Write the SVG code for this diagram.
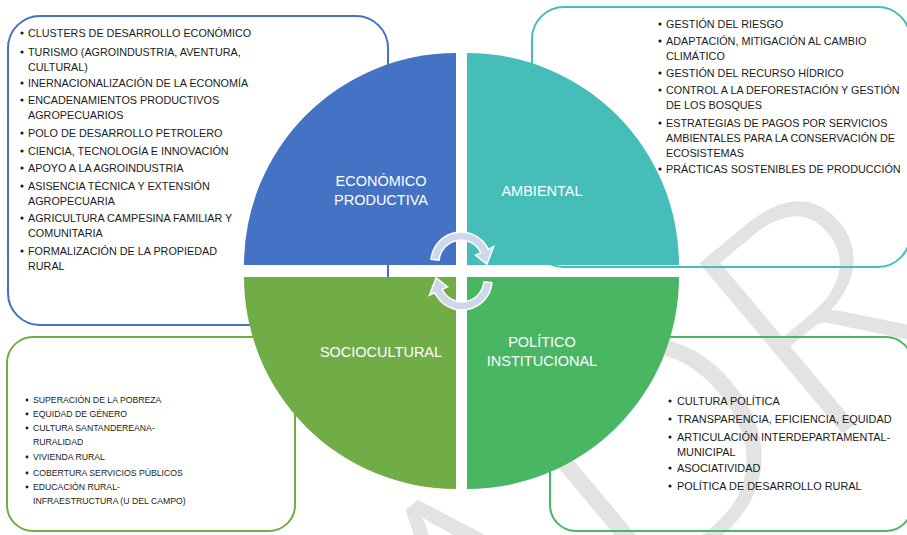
<svg xmlns="http://www.w3.org/2000/svg" width="907" height="535" viewBox="0 0 907 535">
<style>
.box{fill:none;stroke-width:2}
.t{font-family:"Liberation Sans",Arial,sans-serif;fill:#1a1a1a}
.t1{font-size:10.8px}
.t2{font-size:8.7px}
.t3{font-size:10.9px}
.lbl{font-family:"Liberation Sans",Arial,sans-serif;font-size:14.5px;fill:#ffffff;text-anchor:middle}
.arr{fill:#D0D6EB;stroke:#ffffff;stroke-width:1.5}
.wm{font-family:Lato,"Open Sans",sans-serif;font-weight:300;fill:#e3e3e3}
</style>
<rect width="907" height="535" fill="#ffffff"/>
<g id="watermark">
<text class="wm" font-size="315" transform="translate(476,742) rotate(-40)">ADR</text>
</g>
<g id="box-economico">
<rect class="box" x="8" y="16" width="380" height="309" rx="32" stroke="#4472C4"/>
<g class="t t1">
<circle cx="22" cy="33" r="1.6" fill="#1a1a1a"/><text x="28" y="37">CLUSTERS DE DESARROLLO ECONÓMICO</text>
<circle cx="22" cy="52" r="1.6" fill="#1a1a1a"/><text x="28" y="56">TURISMO (AGROINDUSTRIA, AVENTURA,</text>
<text x="28" y="71">CULTURAL)</text>
<circle cx="22" cy="83" r="1.6" fill="#1a1a1a"/><text x="28" y="87">INERNACIONALIZACIÓN DE LA ECONOMÍA</text>
<circle cx="22" cy="100" r="1.6" fill="#1a1a1a"/><text x="28" y="104">ENCADENAMIENTOS PRODUCTIVOS</text>
<text x="28" y="119">AGROPECUARIOS</text>
<circle cx="22" cy="133" r="1.6" fill="#1a1a1a"/><text x="28" y="137">POLO DE DESARROLLO PETROLERO</text>
<circle cx="22" cy="151" r="1.6" fill="#1a1a1a"/><text x="28" y="155">CIENCIA, TECNOLOGÍA E INNOVACIÓN</text>
<circle cx="22" cy="168" r="1.6" fill="#1a1a1a"/><text x="28" y="172">APOYO A LA AGROINDUSTRIA</text>
<circle cx="22" cy="186" r="1.6" fill="#1a1a1a"/><text x="28" y="190">ASISENCIA TÉCNICA Y EXTENSIÓN</text>
<text x="28" y="205">AGROPECUARIA</text>
<circle cx="22" cy="218" r="1.6" fill="#1a1a1a"/><text x="28" y="222">AGRICULTURA CAMPESINA FAMILIAR Y</text>
<text x="28" y="237">COMUNITARIA</text>
<circle cx="22" cy="251" r="1.6" fill="#1a1a1a"/><text x="28" y="255">FORMALIZACIÓN DE LA PROPIEDAD</text>
<text x="28" y="270">RURAL</text>
</g>
</g>
<g id="box-ambiental">
<rect class="box" x="532" y="7" width="378" height="260" rx="32" stroke="#45BDB9"/>
<g class="t t1">
<circle cx="660" cy="24" r="1.6" fill="#1a1a1a"/><text x="666" y="28">GESTIÓN DEL RIESGO</text>
<circle cx="660" cy="41" r="1.6" fill="#1a1a1a"/><text x="666" y="45">ADAPTACIÓN, MITIGACIÓN AL CAMBIO</text>
<text x="666" y="60">CLIMÁTICO</text>
<circle cx="660" cy="73" r="1.6" fill="#1a1a1a"/><text x="666" y="77">GESTIÓN DEL RECURSO HÍDRICO</text>
<circle cx="660" cy="90" r="1.6" fill="#1a1a1a"/><text x="666" y="94">CONTROL A LA DEFORESTACIÓN Y GESTIÓN</text>
<text x="666" y="109">DE LOS BOSQUES</text>
<circle cx="660" cy="123" r="1.6" fill="#1a1a1a"/><text x="666" y="127">ESTRATEGIAS DE PAGOS POR SERVICIOS</text>
<text x="666" y="142">AMBIENTALES PARA LA CONSERVACIÓN DE</text>
<text x="666" y="157">ECOSISTEMAS</text>
<circle cx="660" cy="169" r="1.6" fill="#1a1a1a"/><text x="666" y="173">PRÁCTICAS SOSTENIBLES DE PRODUCCIÓN</text>
</g>
</g>
<g id="box-sociocultural">
<rect class="box" x="7" y="337" width="288" height="194" rx="26" stroke="#70AD47"/>
<g class="t t2">
<circle cx="27" cy="400" r="1.4" fill="#1a1a1a"/><text x="33" y="403">SUPERACIÓN DE LA POBREZA</text>
<circle cx="27" cy="414" r="1.4" fill="#1a1a1a"/><text x="33" y="417">EQUIDAD DE GÉNERO</text>
<circle cx="27" cy="428" r="1.4" fill="#1a1a1a"/><text x="33" y="431">CULTURA SANTANDEREANA-</text>
<text x="33" y="445">RURALIDAD</text>
<circle cx="27" cy="457" r="1.4" fill="#1a1a1a"/><text x="33" y="460">VIVIENDA RURAL</text>
<circle cx="27" cy="473" r="1.4" fill="#1a1a1a"/><text x="33" y="476">COBERTURA SERVICIOS PÚBLICOS</text>
<circle cx="27" cy="487" r="1.4" fill="#1a1a1a"/><text x="33" y="490">EDUCACIÓN RURAL-</text>
<text x="33" y="504">INFRAESTRUCTURA (U DEL CAMPO)</text>
</g>
</g>
<g id="box-politico">
<rect class="box" x="550" y="337" width="362" height="194" rx="26" stroke="#48B663"/>
<g class="t t3">
<circle cx="670" cy="401" r="1.6" fill="#1a1a1a"/><text x="677" y="405">CULTURA POLÍTICA</text>
<circle cx="670" cy="419" r="1.6" fill="#1a1a1a"/><text x="677" y="423">TRANSPARENCIA, EFICIENCIA, EQUIDAD</text>
<circle cx="670" cy="437" r="1.6" fill="#1a1a1a"/><text x="677" y="441">ARTICULACIÓN INTERDEPARTAMENTAL-</text>
<text x="677" y="456">MUNICIPAL</text>
<circle cx="670" cy="468" r="1.6" fill="#1a1a1a"/><text x="677" y="472">ASOCIATIVIDAD</text>
<circle cx="670" cy="486" r="1.6" fill="#1a1a1a"/><text x="677" y="490">POLÍTICA DE DESARROLLO RURAL</text>
</g>
</g>
<g id="q-economico">
<path d="M456,265 L244,265 A212,212 0 0 1 456,53 Z" fill="#4472C4"/>
<text class="lbl" x="381" y="186">ECONÓMICO</text>
<text class="lbl" x="381" y="205">PRODUCTIVA</text>
</g>
<g id="q-ambiental">
<path d="M467,265 L467,53 A212,212 0 0 1 679,265 Z" fill="#45BDB9"/>
<text class="lbl" x="542" y="196">AMBIENTAL</text>
</g>
<g id="q-sociocultural">
<path d="M456,277 L456,489 A212,212 0 0 1 244,277 Z" fill="#70AD47"/>
<text class="lbl" x="381" y="357">SOCIOCULTURAL</text>
</g>
<g id="q-politico">
<path d="M467,277 L679,277 A212,212 0 0 1 467,489 Z" fill="#48B663"/>
<text class="lbl" x="542" y="347">POLÍTICO</text>
<text class="lbl" x="542" y="366">INSTITUCIONAL</text>
</g>
<g id="connectors">
<path class="arr" d="M431.1,259.4 A30,30 0 0 1 488.2,249.3 L493.6,246.8 L486.9,264.3 L475.5,255.2 L480.9,252.7 A22,22 0 0 0 439.1,260.1 Z"/>
<path class="arr" transform="rotate(180 461.5 271)" d="M431.1,259.4 A30,30 0 0 1 488.2,249.3 L493.6,246.8 L486.9,264.3 L475.5,255.2 L480.9,252.7 A22,22 0 0 0 439.1,260.1 Z"/>
</g>
</svg>
